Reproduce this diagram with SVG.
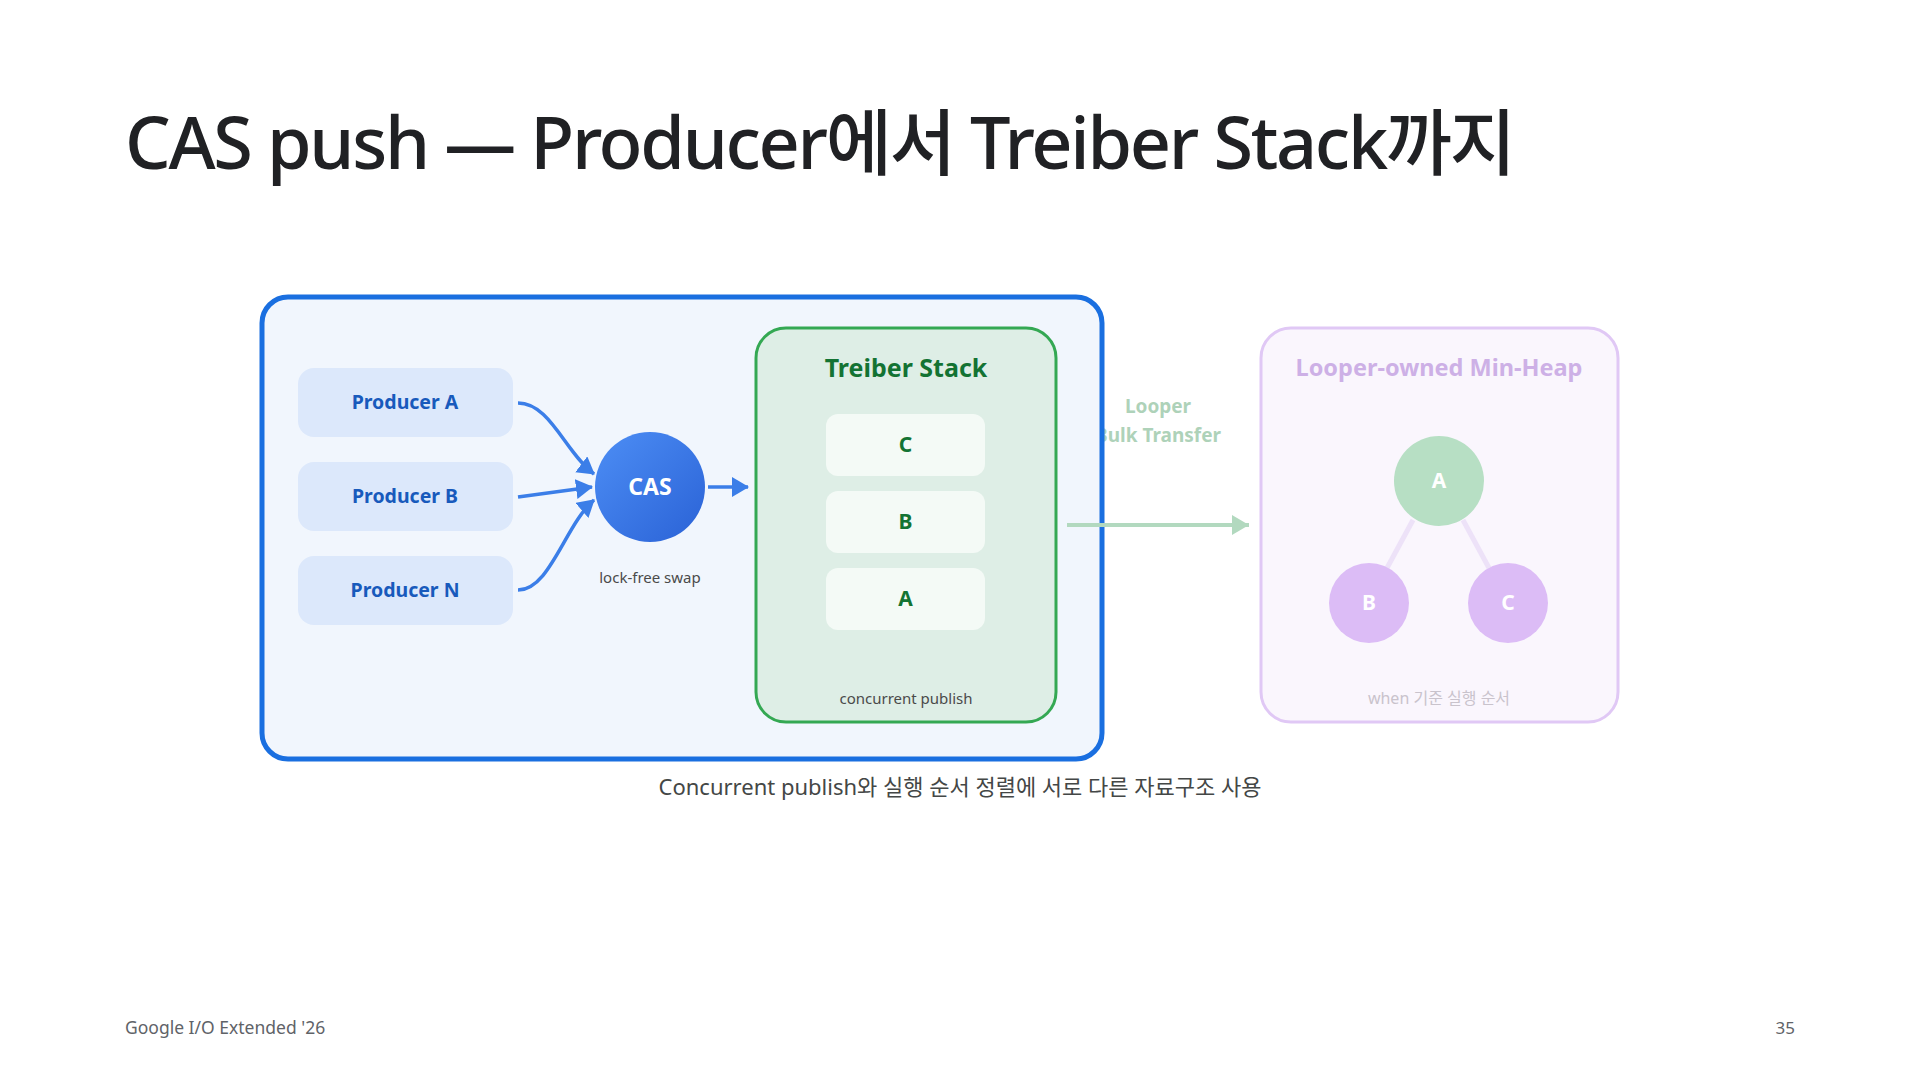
<svg xmlns="http://www.w3.org/2000/svg" width="1920" height="1080" viewBox="0 0 1920 1080">
  <style>
    .t { font-family: "Noto Sans", "Noto Sans CJK KR", sans-serif; }
    .prod-box { fill: #dce8fb; }
    .prod-txt { font-size: 19.5px; font-weight: 700; fill: #185abc; text-anchor: middle; }
    .stack-box { fill: #f4faf6; }
    .stack-txt { font-size: 21px; font-weight: 700; fill: #137333; text-anchor: middle; }
    .note { font-size: 15px; fill: #4a4a4a; text-anchor: middle; }
    .blue-link { fill: none; stroke: #3b7ee8; stroke-width: 3.5; }
    .heap-edge { stroke: #ede2f8; stroke-width: 5; }
    .heap-txt { font-size: 21px; font-weight: 700; fill: #ffffff; text-anchor: middle; }
  </style>
  <defs>
    <marker id="arrBlue" markerUnits="userSpaceOnUse" markerWidth="20" markerHeight="22" refX="16" refY="10" orient="auto">
      <path d="M0,0 L17,10 L0,20 Z" fill="#3b7ee8"/>
    </marker>
    <marker id="arrGreen" markerUnits="userSpaceOnUse" markerWidth="20" markerHeight="22" refX="17" refY="10" orient="auto">
      <path d="M0,0 L17,10 L0,20 Z" fill="#b2d9bf"/>
    </marker>
    <linearGradient id="casGrad" x1="0" y1="0" x2="1" y2="1">
      <stop offset="0" stop-color="#4d8ef5"/>
      <stop offset="1" stop-color="#2a62d6"/>
    </linearGradient>
  </defs>

  <rect width="1920" height="1080" fill="#ffffff"/>

  <text class="t" x="125" y="169" font-size="72" font-weight="500" letter-spacing="-2.3" fill="#202124">CAS push — Producer에서 Treiber Stack까지</text>

  <!-- transfer label (behind outer box border) -->
  <g id="transfer-label">
    <text class="t" x="1158" y="413" font-size="19" font-weight="700" fill="#aed2b9" text-anchor="middle">Looper</text>
    <text class="t" x="1158" y="442" font-size="19" font-weight="700" fill="#aed2b9" text-anchor="middle">Bulk Transfer</text>
  </g>

  <g id="concurrent-region">
    <rect x="262" y="297" width="840" height="462" rx="26" fill="#f1f6fd" stroke="#1a6fe0" stroke-width="5"/>
  </g>

  <g id="producer-a">
    <rect class="prod-box" x="298" y="368" width="215" height="69" rx="16"/>
    <text class="t prod-txt" x="405" y="409">Producer A</text>
  </g>
  <g id="producer-b">
    <rect class="prod-box" x="298" y="462" width="215" height="69" rx="16"/>
    <text class="t prod-txt" x="405" y="503">Producer B</text>
  </g>
  <g id="producer-n">
    <rect class="prod-box" x="298" y="556" width="215" height="69" rx="16"/>
    <text class="t prod-txt" x="405" y="597">Producer N</text>
  </g>

  <g id="cas">
    <circle cx="650" cy="487" r="55" fill="url(#casGrad)"/>
    <text class="t" x="650" y="495" font-size="23" font-weight="700" fill="#ffffff" text-anchor="middle">CAS</text>
    <text class="t note" x="650" y="583">lock-free swap</text>
  </g>

  <g id="treiber-stack">
    <rect x="756" y="328" width="300" height="394" rx="30" fill="#deeee6" stroke="#34a853" stroke-width="3"/>
    <text class="t" x="906" y="377" font-size="25" font-weight="700" fill="#137333" text-anchor="middle">Treiber Stack</text>
    <rect class="stack-box" x="826" y="414" width="159" height="62" rx="12"/>
    <text class="t stack-txt" x="905.5" y="452">C</text>
    <rect class="stack-box" x="826" y="491" width="159" height="62" rx="12"/>
    <text class="t stack-txt" x="905.5" y="529">B</text>
    <rect class="stack-box" x="826" y="568" width="159" height="62" rx="12"/>
    <text class="t stack-txt" x="905.5" y="606">A</text>
    <text class="t note" x="906" y="704" font-size="16" fill="#333333">concurrent publish</text>
  </g>

  <g id="min-heap">
    <rect x="1261" y="328" width="357" height="394" rx="30" fill="#faf6fd" stroke="#e0c8f5" stroke-width="3"/>
    <text class="t" x="1439" y="376" font-size="23.5" font-weight="700" fill="#cdb0e6" text-anchor="middle">Looper-owned Min-Heap</text>
    <line class="heap-edge" x1="1413" y1="520" x2="1387" y2="568"/>
    <line class="heap-edge" x1="1463" y1="520" x2="1489" y2="568"/>
    <circle cx="1439" cy="481" r="45" fill="#b7dfc4"/>
    <text class="t heap-txt" x="1439" y="488">A</text>
    <circle cx="1369" cy="603" r="40" fill="#dcbcf6"/>
    <text class="t heap-txt" x="1369" y="610">B</text>
    <circle cx="1508" cy="603" r="40" fill="#dcbcf6"/>
    <text class="t heap-txt" x="1508" y="610">C</text>
    <text class="t" x="1439" y="704" font-size="16" fill="#c9c3cc" text-anchor="middle">when 기준 실행 순서</text>
  </g>

  <g id="connectors">
    <path class="blue-link" d="M518,403 C550,403 565,452 594,474" marker-end="url(#arrBlue)"/>
    <path class="blue-link" d="M518,497 L592,487" marker-end="url(#arrBlue)"/>
    <path class="blue-link" d="M518,590 C550,590 565,525 594,500" marker-end="url(#arrBlue)"/>
    <path class="blue-link" d="M708,487 L748,487" marker-end="url(#arrBlue)"/>
    <path d="M1067,525 L1249,525" stroke="#b2d9bf" stroke-width="4" fill="none" marker-end="url(#arrGreen)"/>
  </g>

  <text class="t" x="960" y="795" font-size="22" fill="#444746" text-anchor="middle">Concurrent publish와 실행 순서 정렬에 서로 다른 자료구조 사용</text>

  <text class="t" x="125" y="1034" font-size="17.5" fill="#5f6368">Google I/O Extended '26</text>
  <text class="t" x="1795" y="1034" font-size="17" fill="#5f6368" text-anchor="end">35</text>
</svg>
